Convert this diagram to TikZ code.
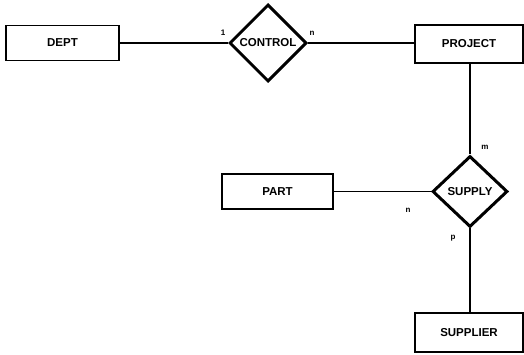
\documentclass[tikz,border=0pt]{standalone}
\usepackage{fontspec}
\setmainfont{Liberation Sans}
\usetikzlibrary{shapes.geometric}
\begin{document}
\begin{tikzpicture}[x=1pt,y=-1pt,
  entity/.style={draw,line width=1.8pt,rectangle,inner sep=0pt,font=\fontsize{11.5}{13}\selectfont\bfseries},
  rel/.style={draw,line width=3pt,diamond,inner sep=0pt,font=\fontsize{11.5}{13}\selectfont\bfseries},
  conn/.style={line width=1.8pt},
  card/.style={inner sep=0pt,font=\fontsize{8}{9}\selectfont\bfseries}]
\useasboundingbox (0,0) rectangle (524,355);
\node[entity,minimum width=113pt,minimum height=35pt] (dept) at (62.5,43) {DEPT};
\node[rel,minimum width=77pt,minimum height=77pt] (control) at (268,43) {CONTROL};
\node[entity,minimum width=108pt,minimum height=38pt] (project) at (469,44) {PROJECT};
\node[rel,minimum width=75pt,minimum height=71pt] (supply) at (470,191.5) {SUPPLY};
\node[entity,minimum width=111pt,minimum height=35pt] (part) at (277.5,191.5) {PART};
\node[entity,minimum width=108pt,minimum height=39pt] (supplier) at (469,332.5) {SUPPLIER};
\draw[conn] (dept.east) -- (control.west);
\draw[conn] (control.east) -- (control.east -| project.west);
\draw[conn] (project.south -| supply.north) -- (supply.north);
\draw[conn] (part.east) -- (supply.west);
\draw[conn] (supply.south) -- (supplier.north -| supply.south);
\node[card] (c1) at (223,33) {1};
\node[card] (c2) at (312,33) {n};
\node[card] (c3) at (485,147) {m};
\node[card] (c4) at (408,210) {n};
\node[card] (c5) at (453,238) {p};
\end{tikzpicture}
\end{document}
